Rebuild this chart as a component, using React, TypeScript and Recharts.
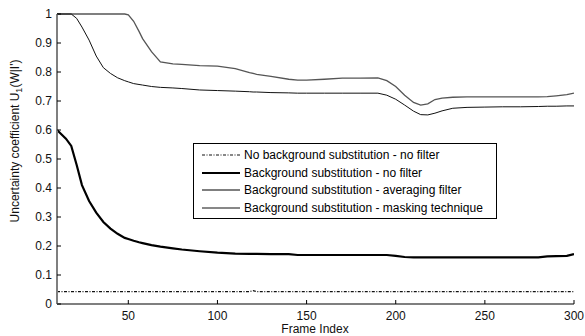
import React from "react";
import { LineChart, Line, XAxis, YAxis, Legend } from "recharts";

const frames = [10, 15, 18, 21, 24, 28, 32, 36, 40, 44, 48, 50, 53, 56, 58, 63, 68, 75, 80, 90, 100, 110, 118, 120, 122, 130, 140, 145, 150, 160, 170, 180, 190, 195, 200, 205, 210, 214, 218, 222, 226, 232, 240, 250, 260, 270, 280, 285, 290, 296, 300];

const noBgNoFilter = [0.043, 0.043, 0.043, 0.043, 0.043, 0.043, 0.043, 0.043, 0.043, 0.043, 0.043, 0.043, 0.043, 0.043, 0.043, 0.043, 0.043, 0.043, 0.043, 0.043, 0.043, 0.043, 0.043, 0.046, 0.043, 0.043, 0.043, 0.043, 0.043, 0.043, 0.043, 0.043, 0.043, 0.043, 0.043, 0.043, 0.043, 0.043, 0.043, 0.043, 0.043, 0.043, 0.043, 0.043, 0.043, 0.043, 0.043, 0.043, 0.043, 0.043, 0.043];

const bgNoFilter = [0.6, 0.57, 0.545, 0.48, 0.41, 0.355, 0.315, 0.283, 0.26, 0.242, 0.228, 0.224, 0.218, 0.213, 0.21, 0.203, 0.198, 0.192, 0.188, 0.182, 0.177, 0.174, 0.173, 0.173, 0.173, 0.172, 0.172, 0.169, 0.169, 0.169, 0.169, 0.169, 0.169, 0.169, 0.166, 0.162, 0.161, 0.161, 0.161, 0.161, 0.161, 0.161, 0.161, 0.161, 0.161, 0.161, 0.161, 0.164, 0.165, 0.166, 0.172];

const bgAveraging = [1, 1, 1, 1, 1, 1, 1, 1, 1, 1, 1, 0.997, 0.975, 0.94, 0.915, 0.87, 0.835, 0.828, 0.826, 0.822, 0.82, 0.812, 0.798, 0.795, 0.792, 0.785, 0.775, 0.772, 0.772, 0.775, 0.779, 0.779, 0.78, 0.77, 0.75, 0.72, 0.695, 0.686, 0.69, 0.705, 0.71, 0.713, 0.714, 0.714, 0.714, 0.714, 0.714, 0.715, 0.718, 0.722, 0.727];

const bgMasking = [1, 1, 1, 0.985, 0.955, 0.91, 0.855, 0.815, 0.795, 0.78, 0.77, 0.766, 0.76, 0.757, 0.755, 0.75, 0.747, 0.745, 0.743, 0.738, 0.736, 0.734, 0.732, 0.731, 0.731, 0.729, 0.728, 0.727, 0.727, 0.727, 0.727, 0.727, 0.727, 0.72, 0.706, 0.686, 0.665, 0.653, 0.652, 0.658, 0.666, 0.675, 0.678, 0.679, 0.68, 0.68, 0.681, 0.682, 0.682, 0.683, 0.683];

const xTicks = [50, 100, 150, 200, 250, 300];
const yTicks = [0, 0.1, 0.2, 0.3, 0.4, 0.5, 0.6, 0.7, 0.8, 0.9, 1];

const seriesNames = [
  "No background substitution - no filter",
  "Background substitution - no filter",
  "Background substitution - averaging filter",
  "Background substitution - masking technique",
];

const data = frames.map((f, i) => ({
  frame: f,
  a: noBgNoFilter[i],
  b: bgNoFilter[i],
  c: bgAveraging[i],
  d: bgMasking[i],
}));

const FONT = "'Liberation Sans', Arial, sans-serif";

const styles = [
  { stroke: "#111", strokeWidth: 1.2, dash: "3 1.5 1 1.5" },
  { stroke: "#000", strokeWidth: 2.2, dash: undefined },
  { stroke: "#555", strokeWidth: 1.3, dash: undefined },
  { stroke: "#111", strokeWidth: 1, dash: undefined },
];

const LegendBox = () => (
  <div
    style={{
      width: 302,
      height: 72,
      border: "1px solid #000",
      background: "#fff",
      fontFamily: FONT,
      fontSize: 12,
      color: "#000",
      boxSizing: "content-box",
      paddingTop: 2,
    }}
  >
    {seriesNames.map((name, i) => (
      <div key={i} style={{ height: 17.7, display: "flex", alignItems: "center", whiteSpace: "nowrap" }}>
        <svg width={50} height={10} style={{ flex: "none" }}>
          <line
            x1={8}
            x2={46}
            y1={5}
            y2={5}
            stroke={styles[i].stroke}
            strokeWidth={styles[i].strokeWidth}
            strokeDasharray={styles[i].dash}
          />
        </svg>
        <span>{name}</span>
      </div>
    ))}
  </div>
);

const YLabel = () => (
  <text
    x={0}
    y={0}
    transform="translate(19,141) rotate(-90)"
    textAnchor="middle"
    fontFamily={FONT}
    fontSize={12}
    fill="#111"
  >
    Uncertainty coefficient U
    <tspan dy={3} fontSize={9}>1</tspan>
    <tspan dy={-3}>(W|I')</tspan>
  </text>
);

const XLabel = () => (
  <text x={315} y={333} textAnchor="middle" fontFamily={FONT} fontSize={12} fill="#111">
    Frame Index
  </text>
);

export default function App() {
  return (
    <div style={{ position: "absolute", left: 0, top: 0, width: 585, height: 336, background: "#fff" }}>
      <LineChart
        width={585}
        height={336}
        data={data}
        margin={{ top: 14, right: 11, bottom: 0, left: 0 }}
      >
        <XAxis
          dataKey="frame"
          type="number"
          domain={[10, 300]}
          ticks={xTicks}
          height={32}
          axisLine={{ stroke: "#7f7f7f", strokeWidth: 2 }}
          tickLine={{ stroke: "#000" }}
          tickSize={-4}
          tickMargin={11}
          tick={{ fontFamily: FONT, fontSize: 12, fill: "#111" }}
          label={<XLabel />}
          allowDataOverflow
        />
        <YAxis
          type="number"
          domain={[0, 1]}
          ticks={yTicks}
          width={57}
          axisLine={{ stroke: "#7f7f7f", strokeWidth: 2 }}
          tickLine={{ stroke: "#000" }}
          tickSize={-4}
          tickMargin={9}
          tick={{ fontFamily: FONT, fontSize: 12, fill: "#111" }}
          label={<YLabel />}
        />
        <Legend
          layout="vertical"
          align="center"
          verticalAlign="middle"
          content={<LegendBox />}
          wrapperStyle={{ position: "absolute", left: 193, top: 143, width: 304, height: 74 }}
        />
        <Line type="linear" dataKey="a" stroke={styles[0].stroke} strokeWidth={styles[0].strokeWidth} strokeDasharray={styles[0].dash} dot={false} isAnimationActive={false} />
        <Line type="linear" dataKey="b" stroke={styles[1].stroke} strokeWidth={styles[1].strokeWidth} dot={false} isAnimationActive={false} />
        <Line type="linear" dataKey="c" stroke={styles[2].stroke} strokeWidth={styles[2].strokeWidth} dot={false} isAnimationActive={false} />
        <Line type="linear" dataKey="d" stroke={styles[3].stroke} strokeWidth={styles[3].strokeWidth} dot={false} isAnimationActive={false} />
      </LineChart>
    </div>
  );
}
